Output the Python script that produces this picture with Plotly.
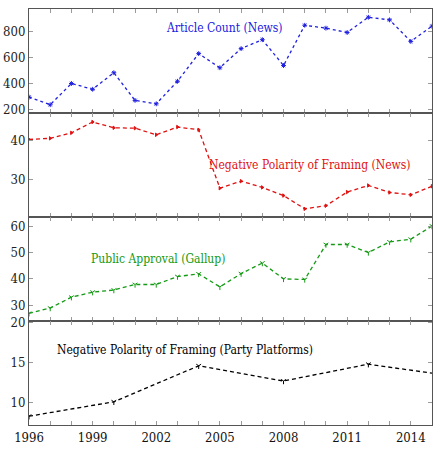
import plotly.graph_objects as go

years = list(range(1996, 2016))
article_count = [296, 238, 400, 356, 482, 271, 245, 417, 628, 520, 666, 734, 537, 844, 822, 789, 905, 885, 721, 837]
neg_news = [40.2, 40.5, 41.9, 44.7, 43.2, 43.1, 41.4, 43.4, 42.7, 27.7, 29.5, 27.9, 25.8, 22.4, 23.2, 26.7, 28.4, 26.6, 26.0, 28.2]
approval = [27.0, 29.0, 33.1, 35.0, 35.8, 37.9, 37.9, 40.9, 41.9, 37.0, 42.0, 46.0, 40.0, 39.8, 53.0, 53.0, 50.0, 54.0, 55.0, 60.0]
platform_years = [1996, 2000, 2004, 2008, 2012, 2016]
neg_platform = [8.3, 10.1, 14.6, 12.7, 14.8, 13.3]

labels = ["Article Count (News)", "Negative Polarity of Framing (News)",
          "Public Approval (Gallup)", "Negative Polarity of Framing (Party Platforms)"]
xtick_labels = ["1996", "1999", "2002", "2005", "2008", "2011", "2014"]

FONT = "DejaVu Serif Condensed, DejaVu Serif"
AFONT = "DejaVu Serif Condensed, DejaVu Serif"
BLUE = "#2020e0"
RED = "#e01010"
GREEN = "#149a14"
BLACK = "#000000"
FRAME = "#555555"
TICK = "#9a9a9a"

fig = go.Figure()

series = [
    (years, article_count, BLUE, "dot", "asterisk-open", 4),
    (years, neg_news, RED, "4px,3px", "triangle-right", 3),
    (years, approval, GREEN, "4px,3px", "y-down-open", 4),
    (platform_years, neg_platform, BLACK, "4px,3px", "y-down-open", 4),
]
for i, (xs, ys, col, dash, sym, ms) in enumerate(series):
    ax = "" if i == 0 else str(i + 1)
    fig.add_trace(go.Scatter(
        x=xs, y=ys, mode="lines+markers", xaxis="x" + ax, yaxis="y" + ax,
        line=dict(color=col, dash=dash, width=1.3),
        marker=dict(symbol=sym, size=ms, color=col, line=dict(color=col, width=1)),
        showlegend=False, cliponaxis=True))

yranges = [[175, 968], [20.3, 47], [24.1, 63.4], [7.2, 20.2]]
ytickvals = [[200, 400, 600, 800], [30, 40], [30, 40, 50, 60], [10, 15, 20]]
n = 4
h = 1.0 / n
all_ticks = list(range(1996, 2016))
ticktext = [str(y) if str(y) in xtick_labels else "" for y in all_ticks]

for i in range(n):
    ax = "" if i == 0 else str(i + 1)
    top = 1 - i * h
    bottom = top - h
    fig.layout["xaxis" + ax] = dict(
        domain=[0, 1], anchor="y" + ax, range=[1996, 2015],
        tickmode="array", tickvals=all_ticks,
        ticktext=ticktext, showticklabels=(i == n - 1),
        ticks="inside", ticklen=4, tickcolor=TICK, tickwidth=1,
        mirror="ticks", showline=True, linecolor=FRAME, linewidth=1,
        showgrid=False, zeroline=False,
        tickfont=dict(family=FONT, size=13, color="#111111"),
    )
    fig.layout["yaxis" + ax] = dict(
        domain=[bottom, top], anchor="x" + ax, range=yranges[i],
        tickmode="array", tickvals=ytickvals[i],
        ticks="inside", ticklen=4, tickcolor=TICK, tickwidth=1,
        mirror="ticks", showline=True, linecolor=FRAME, linewidth=1,
        showgrid=False, zeroline=False,
        tickfont=dict(family=FONT, size=13, color="#222222"),
    )

ann_pos = [(0.484, 0.955, BLUE), (0.697, 0.624, RED), (0.32, 0.398, GREEN), (0.387, 0.181, BLACK)]
for (x, y, col), txt in zip(ann_pos, labels):
    fig.add_annotation(x=x, y=y, xref="paper", yref="paper", text=txt, showarrow=False,
                       font=dict(family=AFONT, size=12, color=col), xanchor="center", yanchor="middle")

fig.update_layout(
    width=436, height=453,
    margin=dict(l=20, r=3, t=5, b=28),
    paper_bgcolor="white", plot_bgcolor="white",
    font=dict(family=FONT),
)

fig.write_html("out.html")
